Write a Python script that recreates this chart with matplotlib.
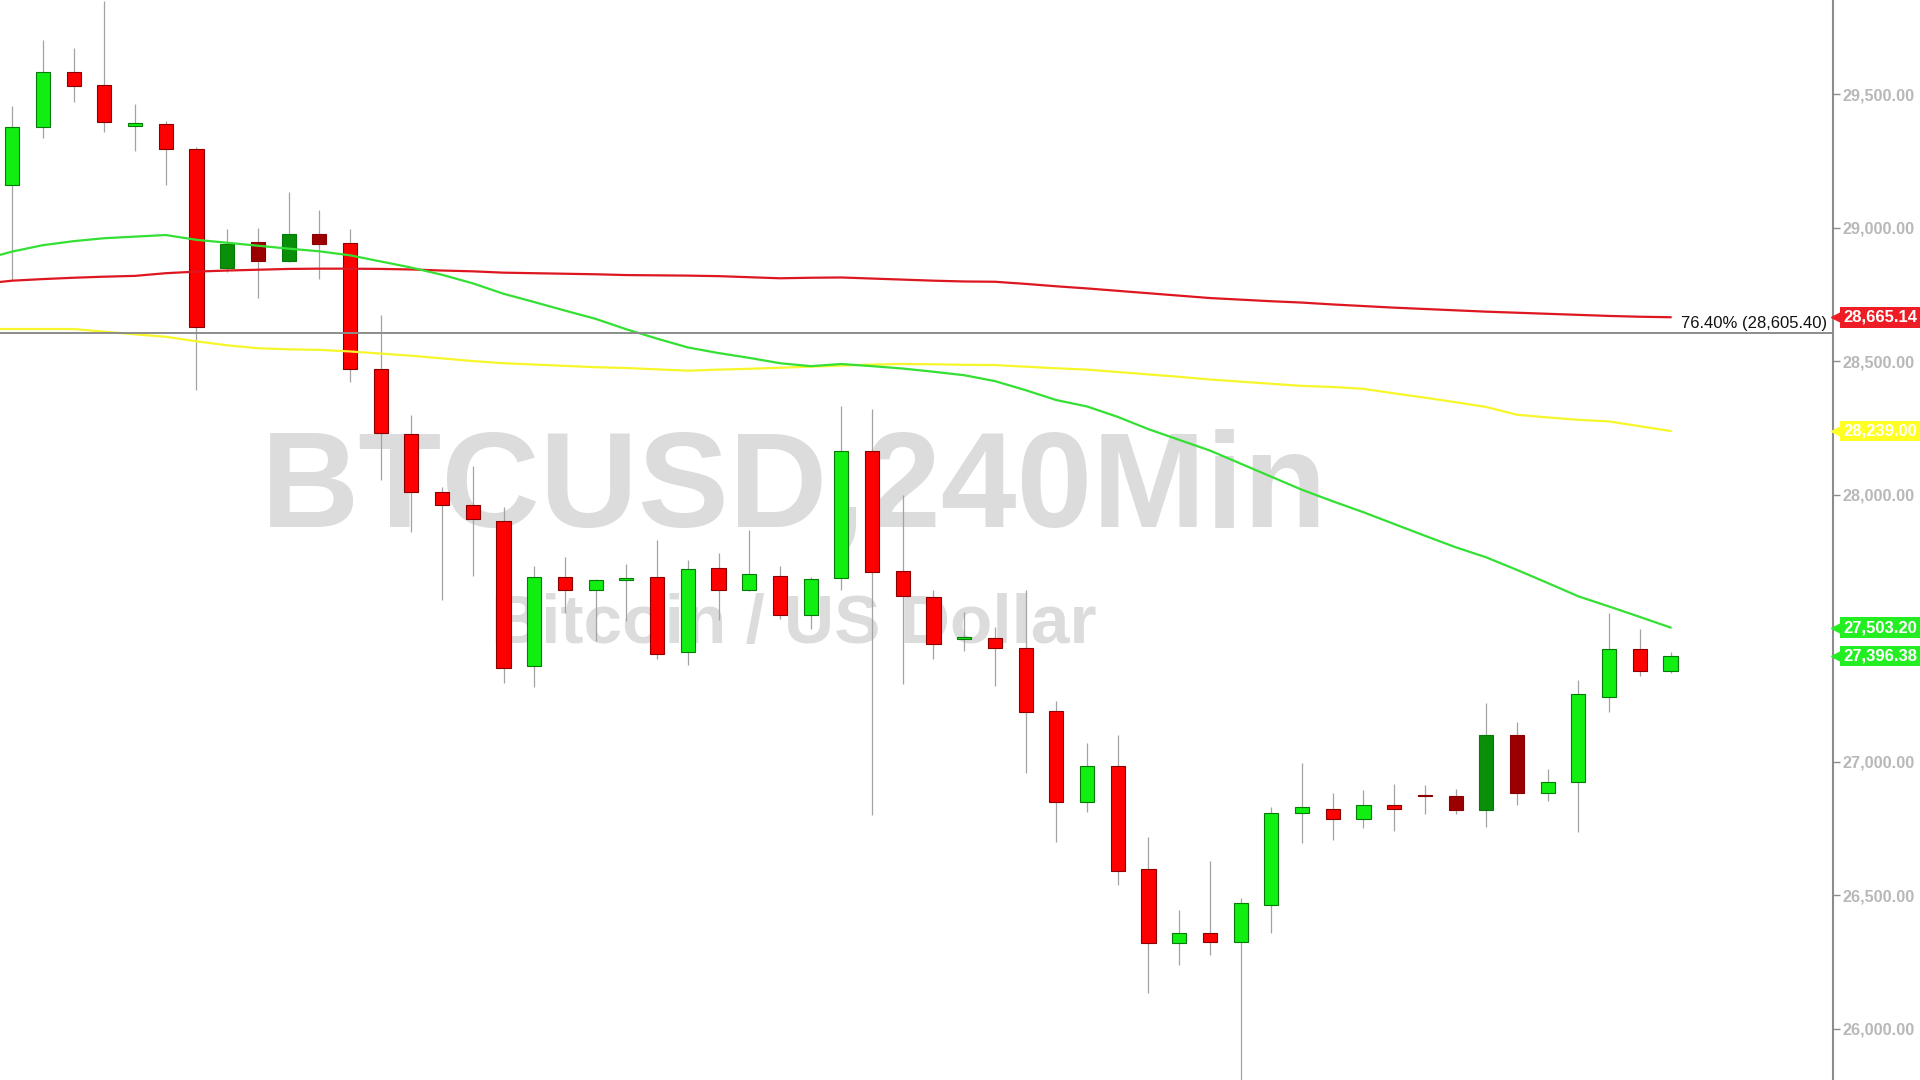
import matplotlib
matplotlib.use("Agg")
import matplotlib.pyplot as plt
import matplotlib.transforms as mtransforms
from matplotlib.ticker import FuncFormatter
import numpy as np

plt.rcParams['font.family'] = ['Liberation Sans', 'DejaVu Sans']

# 4h candles
opens = [29160, 29379, 29582, 29535, 29382, 29390, 29295, 28851, 28946, 28877,
         28977, 28942, 28470, 28229, 28009, 27962, 27903, 27358, 27692, 27645,
         27681, 27692, 27413, 27727, 27645, 27696, 27551, 27688, 28165, 27714,
         27619, 27460, 27465, 27426, 27192, 26851, 26983, 26598, 26322, 26358,
         26325, 26463, 26807, 26822, 26788, 26840, 26877, 26872, 26820, 27099,
         26885, 26926, 27243, 27421, 27340]
highs = [29456, 29703, 29675, 29850, 29464, 29401, 29304, 28997, 29000, 29134,
         29067, 28994, 28674, 28298, 28030, 28107, 27954, 27733, 27767, 27686,
         27741, 27832, 27757, 27782, 27868, 27733, 27692, 28331, 28320, 27998,
         27645, 27563, 27507, 27645, 27229, 27072, 27099, 26718, 26447, 26629,
         26490, 26832, 26997, 26884, 26894, 26918, 26913, 26897, 27222, 27149,
         26975, 27308, 27556, 27498, 27413]
lows = [28805, 29335, 29472, 29360, 29289, 29160, 28393, 28835, 28736, 28873,
        28807, 28424, 28055, 27860, 27605, 27698, 27296, 27280, 27559, 27452,
        27527, 27384, 27364, 27530, 27641, 27535, 27499, 27645, 26801, 27291,
        27384, 27416, 27286, 26958, 26702, 26812, 26541, 26133, 26240, 26276,
        25780, 26361, 26698, 26707, 26752, 26742, 26804, 26804, 26755, 26840,
        26853, 26739, 27186, 27320, 27332]
closes = [29379, 29582, 29532, 29397, 29392, 29296, 28630, 28938, 28877, 28977,
          28940, 28470, 28233, 28009, 27962, 27908, 27353, 27692, 27645, 27681,
          27690, 27405, 27722, 27645, 27702, 27551, 27684, 28165, 27712, 27623,
          27442, 27466, 27426, 27186, 26851, 26983, 26590, 26322, 26361, 26325,
          26471, 26807, 26832, 26788, 26840, 26825, 26871, 26820, 27099, 26885,
          26926, 27256, 27421, 27340, 27396.38]
# darker shade candles
dark = [0, 0, 0, 0, 0, 0, 0, 1, 1, 1,
        1, 0, 0, 0, 0, 0, 0, 0, 0, 0,
        0, 0, 0, 0, 0, 0, 0, 0, 0, 0,
        0, 0, 0, 0, 0, 0, 0, 0, 0, 0,
        0, 0, 0, 0, 0, 0, 1, 1, 1, 1,
        0, 0, 0, 0, 0]

# moving averages, first value is one bar before the first candle
ma_fast = [28880, 28911, 28935, 28950, 28961, 28967, 28973, 28955, 28944, 28933,
           28922, 28912, 28897, 28874, 28851, 28824, 28792, 28753, 28722, 28690,
           28659, 28620, 28585, 28552, 28531, 28513, 28493, 28482, 28490, 28482,
           28473, 28461, 28448, 28426, 28392, 28355, 28331, 28292, 28246, 28206,
           28166, 28117, 28068, 28019, 27976, 27935, 27891, 27847, 27804, 27766,
           27719, 27670, 27620, 27582, 27543, 27503.20]
ma_mid = [28621, 28621, 28621, 28621, 28611, 28601, 28592, 28575, 28560, 28549,
          28545, 28543, 28537, 28529, 28521, 28511, 28501, 28493, 28488, 28483,
          28478, 28475, 28470, 28465, 28469, 28472, 28476, 28480, 28484, 28488,
          28490, 28489, 28487, 28486, 28480, 28474, 28469, 28460, 28451, 28442,
          28432, 28424, 28416, 28408, 28404, 28397, 28380, 28364, 28347, 28329,
          28300, 28290, 28281, 28275, 28257, 28239.00]
ma_slow = [28790, 28802, 28808, 28813, 28817, 28820, 28830, 28836, 28840, 28843,
           28846, 28847, 28847, 28846, 28844, 28840, 28837, 28832, 28830, 28828,
           28826, 28823, 28822, 28821, 28819, 28815, 28811, 28813, 28814, 28810,
           28806, 28802, 28799, 28798, 28790, 28781, 28773, 28764, 28755, 28746,
           28737, 28731, 28725, 28720, 28713, 28707, 28701, 28696, 28691, 28686,
           28682, 28678, 28674, 28670, 28667, 28665.14]

fib_level = 28605.40
fib_text = '76.40% (28,605.40)'
yticks = [26000, 26500, 27000, 27500, 28000, 28500, 29000, 29500]
title1 = 'BTCUSD,240Min'
title2 = 'Bitcoin / US Dollar'

opens = np.array(opens)
closes = np.array(closes)
highs = np.array(highs)
lows = np.array(lows)
dark = np.array(dark)
n = len(opens)
x = np.arange(n)
xm = np.arange(-1, n)

up = closes >= opens
face = np.where(up, np.where(dark == 1, '#0a8f0a', '#11ee11'),
                np.where(dark == 1, '#9b0000', '#ff0000'))
edge = np.where(up, '#067a06', '#8a0000')

fig = plt.figure(figsize=(19.2, 10.8), dpi=100)
fig.patch.set_facecolor('white')
ax = fig.add_axes([0, 0, 1833 / 1920, 1])

# watermark
ax.text(0.4135, 0.512, title1, transform=fig.transFigure, ha='center', va='baseline',
        fontsize=98, fontweight='bold', color='#dcdcdc', zorder=0.5)
ax.text(0.4135, 0.4046, title2, transform=fig.transFigure, ha='center', va='baseline',
        fontsize=50, fontweight='bold', color='#dcdcdc', zorder=0.5)

# candles
ax.vlines(x, lows, highs, color='#a3a3a3', lw=0.9, zorder=2)
body_bottom = np.minimum(opens, closes)
body_h = np.maximum(np.abs(closes - opens), 7)
ax.bar(x, body_h, bottom=body_bottom, width=0.46, color=face, edgecolor=edge,
       linewidth=0.8, zorder=3)

# averages + fib level
ax.plot(xm, ma_slow, color='#dd1620', lw=1.6, zorder=4)
ax.plot(xm, ma_mid, color='#f6f62a', lw=1.6, zorder=4)
ax.plot(xm, ma_fast, color='#33e033', lw=1.6, zorder=4)
ax.axhline(fib_level, color='#8c8c8c', lw=1.4, zorder=4)

trans = mtransforms.blended_transform_factory(ax.transAxes, ax.transData)
ax.text(0.997, 28625, fib_text, transform=trans, ha='right', va='baseline',
        fontsize=12, color='#111111', zorder=5)

ax.set_xlim(-0.397, 59.29)
ax.set_ylim(25809, 29853)
ax.set_xticks([])
ax.yaxis.tick_right()
ax.set_yticks(yticks)
ax.yaxis.set_major_formatter(FuncFormatter(lambda v, p: f'{v:,.2f}'))
ax.tick_params(axis='y', length=5, width=1, color='#8c8c8c', labelcolor='#b8b8b8',
               labelsize=11.7, pad=2)
for lbl in ax.get_yticklabels():
    lbl.set_fontweight('bold')
for s in ['top', 'left', 'bottom']:
    ax.spines[s].set_visible(False)
ax.spines['right'].set_color('#8c8c8c')
ax.spines['right'].set_linewidth(1.5)

# last value tags on the price scale
tags = [(ma_slow[-1], '#ee1c24'), (ma_mid[-1], '#ffff22'),
        (ma_fast[-1], '#22ee22'), (closes[-1], '#22ee22')]
for val, col in tags:
    ax.plot([1.0035], [val], marker='<', ms=11, color=col, transform=trans,
            clip_on=False, zorder=6)
    ax.text(1.0055, val, f'{val:,.2f}', transform=trans, ha='left', va='center',
            color='white', fontsize=12, fontweight='bold', clip_on=False, zorder=7,
            bbox=dict(boxstyle='square,pad=0.17', fc=col, ec='none'))

fig.savefig('out.png', dpi=100, facecolor='white')
